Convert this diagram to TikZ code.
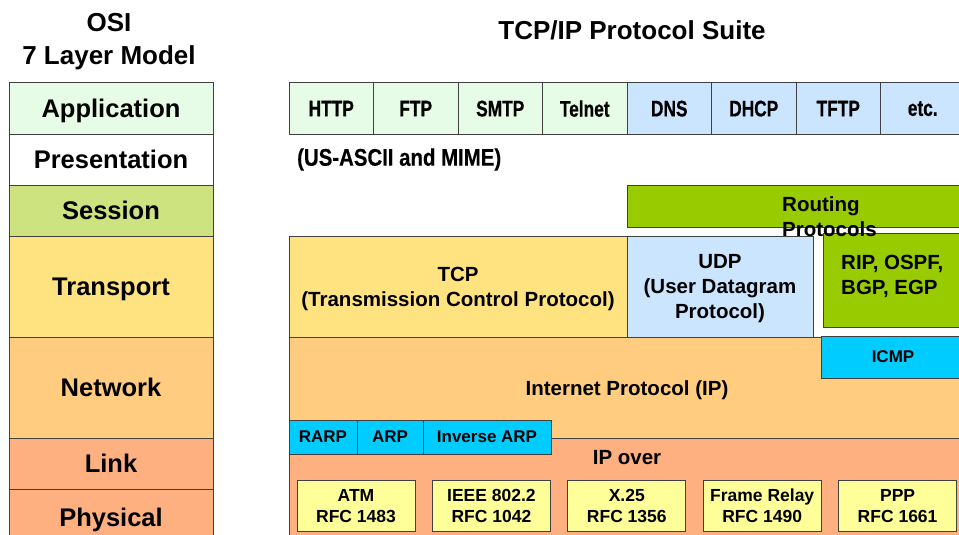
\documentclass[tikz,border=0pt]{standalone}
\usepackage{fontspec}
\setmainfont{Liberation Sans}
\newfontfamily\cellfont[FakeStretch=0.77, FakeBold=0.6]{Liberation Sans}
\newfontfamily\mimefont[FakeStretch=0.85, FakeBold=0.4]{Liberation Sans}
\usetikzlibrary{positioning}
\definecolor{appGreen}{HTML}{E6FCE6}
\definecolor{appBlue}{HTML}{CCE5FF}
\definecolor{sessGreen}{HTML}{CCE380}
\definecolor{transYellow}{HTML}{FFE380}
\definecolor{netOrange}{HTML}{FFCC80}
\definecolor{linkSalmon}{HTML}{FFB080}
\definecolor{routeGreen}{HTML}{99CC00}
\definecolor{cyanBox}{HTML}{00CCFF}
\definecolor{mediaYellow}{HTML}{FFFF99}
\definecolor{edge}{HTML}{404040}

\tikzset{
  layer/.style={draw=edge, line width=1pt, outer sep=0pt, inner sep=0pt, text depth=0pt,
    minimum width=204pt, font=\fontsize{25.5}{27}\selectfont\bfseries},
  cell/.style={draw=edge, line width=1pt, outer sep=0pt, inner sep=0pt, text depth=0pt,
    minimum width=84.5pt, minimum height=51pt, font=\cellfont\fontsize{22.5}{24}\selectfont\bfseries},
  block/.style={draw=edge, line width=1pt, outer sep=0pt, inner sep=0pt, text depth=0pt,
    align=center, font=\fontsize{20.5}{25}\selectfont\bfseries},
  lbl/.style={inner sep=0pt, text depth=0pt, font=\fontsize{20.5}{25}\selectfont\bfseries},
  tag/.style={draw=edge, line width=1pt, outer sep=0pt, inner sep=0pt, text depth=0pt, fill=cyanBox,
    minimum height=34pt, font=\fontsize{17}{19}\selectfont\bfseries},
  media/.style={draw=edge, line width=1pt, outer sep=0pt, inner sep=0pt, text depth=0pt, fill=mediaYellow,
    minimum width=118pt, minimum height=51pt, align=center, font=\fontsize{17.5}{21}\selectfont\bfseries},
  title/.style={align=center, inner sep=0pt, text depth=0pt, font=\fontsize{26}{33}\selectfont\bfseries}
}

\begin{document}
\begin{tikzpicture}[x=1pt, y=-1pt]
  \clip (0,0) rectangle (959,535);

  % Titles
  \node[title] (osi) at (109,39) {OSI\\7 Layer Model};
  \node[title] (suite) at (632,30) {TCP/IP Protocol Suite};

  % OSI layers
  \node[layer, fill=appGreen, minimum height=51pt] (application) at (111,108.5) {Application};
  \node[layer, fill=white, minimum height=51pt, below=0pt of application] (presentation) {Presentation};
  \node[layer, fill=sessGreen, minimum height=51pt, below=0pt of presentation] (session) {Session};
  \node[layer, fill=transYellow, minimum height=101pt, below=0pt of session] (transport) {Transport};
  \node[layer, fill=netOrange, minimum height=101pt, below=0pt of transport] (network) {Network};
  \node[layer, fill=linkSalmon, minimum height=51pt, below=0pt of network] (link) {Link};
  \node[layer, fill=linkSalmon, minimum height=56pt, below=0pt of link] (physical) {Physical};

  % Application protocols
  \foreach \proto [count=\i from 0] in {HTTP,FTP,SMTP,Telnet}
    \node[cell, fill=appGreen] (app\i) at (331.25+84.5*\i,108.5) {\proto};
  \foreach \proto [count=\i from 4] in {DNS,DHCP,TFTP,etc.}
    \node[cell, fill=appBlue] (app\i) at (331.25+84.5*\i,108.5) {\proto};
  \node[anchor=west, inner sep=0pt, text depth=0pt, font=\mimefont\fontsize{24}{26}\selectfont\bfseries] (mime) at (297,157) {(US-ASCII and MIME)};

  % Internet and link
  \node[block, fill=netOrange, anchor=north west, minimum width=676pt, minimum height=101pt] (ip) at (289,337) {};
  \node[lbl] (iplbl) at (627,388) {Internet Protocol (IP)};
  \node[block, fill=linkSalmon, anchor=north west, minimum width=676pt, minimum height=110pt] (linkarea) at (289,438) {};
  \node[lbl] (ipover) at (627,457) {IP over};

  % Transport
  \node[block, fill=transYellow, anchor=north west, minimum width=338pt, minimum height=101pt] (tcp) at (289,236)
    {TCP\\(Transmission Control Protocol)};
  \node[block, fill=appBlue, right=0pt of tcp, minimum width=186pt, minimum height=101pt] (udp)
    {UDP\\(User Datagram\\Protocol)};

  % Routing
  \node[block, fill=routeGreen, anchor=north west, minimum width=338pt, minimum height=42pt] (routing) at (627,185) {};
  \node[block, fill=routeGreen, anchor=north west, minimum width=142pt, minimum height=94pt] (rip) at (823,233) {};
  \node[lbl, anchor=west, align=left] (riplbl) at (841,275) {RIP, OSPF,\\BGP, EGP};
  \node[lbl, anchor=west, align=left] (routinglbl) at (782,216.5) {Routing\\Protocols};
  \node[tag, anchor=north west, minimum width=144pt, minimum height=42pt] (icmp) at (821,336) {ICMP};

  % Address resolution
  \node[tag, anchor=north west, minimum width=68pt] (rarp) at (289,420) {RARP};
  \node[tag, right=0pt of rarp, minimum width=66pt] (arp) {ARP};
  \node[tag, right=0pt of arp, minimum width=128pt] (invarp) {Inverse ARP};

  % Link technologies
  \foreach \tech/\rfc [count=\i from 0] in {ATM/1483,IEEE 802.2/1042,X.25/1356,Frame Relay/1490,PPP/1661}
    \node[media] (media\i) at (356+135.4*\i,505.5) {\tech\\RFC \rfc};
\end{tikzpicture}
\end{document}
